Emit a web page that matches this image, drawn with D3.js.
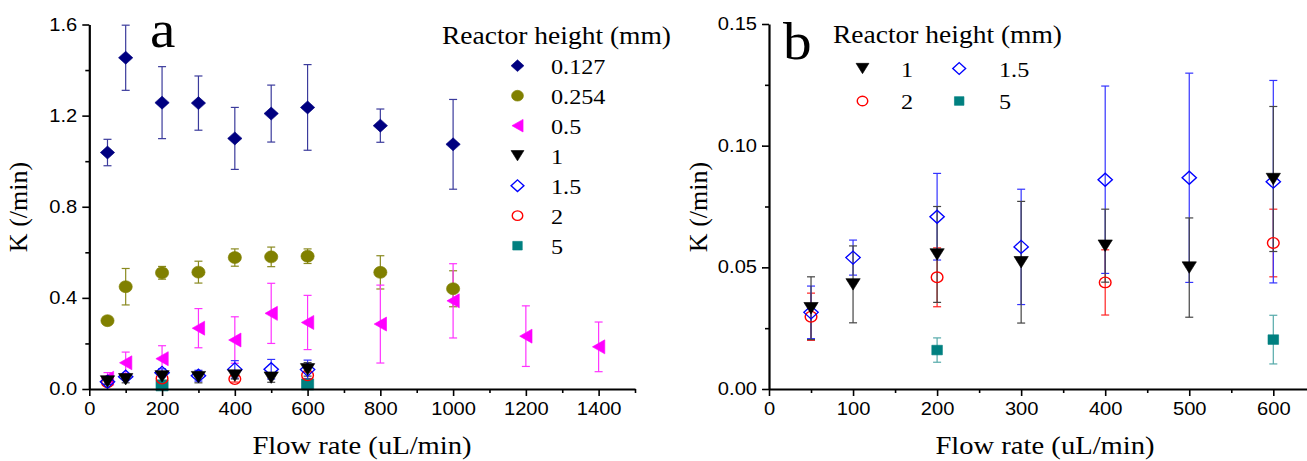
<!DOCTYPE html>
<html><head><meta charset="utf-8">
<script src="https://cdn.jsdelivr.net/npm/d3@7"></script>
<style>body{margin:0;background:#fff}svg{display:block;background:#fff}</style>
</head><body>
<svg id="c" width="1307" height="461"></svg>
<script>
// ---------- data ----------
const seriesNames = ["0.127","0.254","0.5","1","1.5","2","5"];
const flow0127 = [50,100,200,300,400,500,600,800,1000];
const k0127    = [1.038,1.454,1.257,1.255,1.100,1.209,1.236,1.156,1.074];
const e0127    = [0.058,0.143,0.158,0.119,0.136,0.125,0.188,0.073,0.197];
const flow0254 = [50,100,200,300,400,500,600,800,1000];
const k0254    = [0.300,0.449,0.510,0.513,0.577,0.580,0.583,0.512,0.440];
const e0254    = [0.010,0.080,0.028,0.048,0.038,0.043,0.032,0.073,0.079];
const flow05   = [50,100,200,300,400,500,600,800,1000,1200,1400];
const k05      = [0.047,0.115,0.133,0.267,0.215,0.332,0.292,0.285,0.387,0.232,0.185];
const e05      = [0.025,0.047,0.057,0.086,0.102,0.132,0.119,0.171,0.163,0.133,0.109];
const flow1    = [50,100,200,300,400,500,600];
const k1       = [0.0332,0.0430,0.0553,0.0521,0.0589,0.0499,0.0863];
const e1       = [0.0129,0.0158,0.0197,0.0250,0.0150,0.0204,0.0298];
const flow15   = [50,100,200,300,400,500,600];
const k15      = [0.0315,0.0540,0.0708,0.0584,0.0860,0.0868,0.0852];
const e15      = [0.0108,0.0072,0.0178,0.0237,0.0385,0.0430,0.0416];
const flow2    = [50,200,400,600];
const k2       = [0.0297,0.0459,0.0438,0.0600];
const e2       = [0.0097,0.0121,0.0134,0.0139];
const flow5    = [200,600];
const k5       = [0.0160,0.0203];
const e5       = [0.0050,0.0100];

const xTicksA = [0,200,400,600,800,1000,1200,1400];
const xMinorA = [100,300,500,700,900,1100,1300,1500];
const yTicksA = [0,0.4,0.8,1.2,1.6];
const yMinorA = [0.2,0.6,1.0,1.4];
const xTicksB = [0,100,200,300,400,500,600];
const xMinorB = [50,150,250,350,450,550,650];
const yTicksB = [0,0.05,0.10,0.15];
const yMinorB = [0.025,0.075,0.125];

// ---------- styling ----------
const SERIF = "'Liberation Serif','Times New Roman',serif";
const SANS = "'Liberation Sans',Arial,sans-serif";
const SX = 1.1;   // horizontal stretch of the source image
const style = {
  "0.127": {shape:"diamond", color:"#000080", fill:true,  r:6.5},
  "0.254": {shape:"circle",  color:"#808000", fill:true,  r:6},
  "0.5":   {shape:"triLeft", color:"#ff00ff", fill:true,  r:7},
  "1":     {shape:"triDown", color:"#000000", fill:true,  r:6.5},
  "1.5":   {shape:"diamond", color:"#0000ff", fill:false, r:6.5},
  "2":     {shape:"circle",  color:"#ff0000", fill:false, r:5.3},
  "5":     {shape:"square",  color:"#008080", fill:true,  r:4.8}
};
const errColor = {"0.127":"#3b3b9c","0.254":"#8a8a20","0.5":"#ff33ff","1":"#444444","1.5":"#3333ff","2":"#ff2222","5":"#55aaaa"};

function shapePath(shape, r){
  switch(shape){
    case "diamond": return `M0,${-r}L${r},0L0,${r}L${-r},0Z`;
    case "circle": return `M${-r},0A${r},${r} 0 1,0 ${r},0A${r},${r} 0 1,0 ${-r},0Z`;
    case "triLeft": return `M${-r*0.8},0L${r*0.8},${-r}L${r*0.8},${r}Z`;
    case "triDown": return `M${-r},${-r*0.88}L${r},${-r*0.88}L0,${r*0.88}Z`;
    case "square": return `M${-r},${-r}H${r}V${r}H${-r}Z`;
  }
}
function marker(g, name, x, y, scale){
  const s = style[name];
  const r = s.r*(scale||1);
  g.append("path").attr("d", shapePath(s.shape, r))
    .attr("transform", `translate(${x},${y}) scale(${SX},1)`)
    .attr("fill", s.fill ? s.color : "none")
    .attr("stroke", s.color)
    .attr("stroke-width", s.fill ? 0.6 : 1.3);
}
function text(g, x, y, str, size, family, anchor, sx){
  return g.append("text").attr("transform", `translate(${x},${y}) scale(${sx||1},1)`)
    .attr("text-anchor", anchor||"start").attr("font-family", family)
    .attr("font-size", size).attr("fill","#000").text(str);
}

const svg = d3.select("#c");
svg.append("rect").attr("width",1307).attr("height",461).attr("fill","#fff");

function drawPanel(cfg){
  const g = svg.append("g");
  const {x, y} = cfg;
  const y0 = y.range()[0];
  const x0 = x.range()[0];
  // error bars
  cfg.series.forEach(s => {
    s.flow.forEach((f,i)=>{
      const cx = x(f), lo = y(s.k[i]-s.e[i]), hi = y(s.k[i]+s.e[i]);
      const c = errColor[s.name];
      g.append("line").attr("x1",cx).attr("x2",cx).attr("y1",lo).attr("y2",hi)
        .attr("stroke",c).attr("stroke-width",1.2);
      [lo,hi].forEach(yy => g.append("line").attr("x1",cx-4).attr("x2",cx+4)
        .attr("y1",yy).attr("y2",yy).attr("stroke",c).attr("stroke-width",1.2));
    });
  });
  // markers
  cfg.series.forEach(s => {
    s.flow.forEach((f,i)=> marker(g, s.name, x(f), y(s.k[i]), s.scale));
  });
  // axes
  const styleAxis = sel => {
    sel.select(".domain").attr("stroke","#000").attr("stroke-width",2.2);
    sel.selectAll(".tick line").attr("stroke","#000").attr("stroke-width",1.6);
  };
  const ax = g.append("g").attr("transform",`translate(0,${y0})`)
    .call(d3.axisBottom(x).tickValues(cfg.xTicks).tickSize(7).tickPadding(7).tickSizeOuter(0).tickFormat(d3.format("d")));
  styleAxis(ax);
  ax.selectAll("text").attr("font-family",SANS).attr("font-size",17.5).attr("fill","#000")
    .attr("transform",`scale(1.15,1)`);
  const axm = g.append("g").attr("transform",`translate(0,${y0})`)
    .call(d3.axisBottom(x).tickValues(cfg.xMinor).tickSize(4).tickSizeOuter(0).tickFormat(""));
  styleAxis(axm); axm.select(".domain").remove();
  const ay = g.append("g").attr("transform",`translate(${x0},0)`)
    .call(d3.axisLeft(y).tickValues(cfg.yTicks).tickSize(7).tickPadding(5).tickSizeOuter(0).tickFormat(d3.format(cfg.yFmt)));
  styleAxis(ay);
  ay.selectAll("text").attr("font-family",SANS).attr("font-size",17.5).attr("fill","#000")
    .attr("x", -12/1.15).attr("transform",`scale(1.15,1)`);
  const aym = g.append("g").attr("transform",`translate(${x0},0)`)
    .call(d3.axisLeft(y).tickValues(cfg.yMinor).tickSize(4).tickSizeOuter(0).tickFormat(""));
  styleAxis(aym); aym.select(".domain").remove();
  // axis titles
  text(g, cfg.xTitleX, 454, "Flow rate (uL/min)", 26, SERIF, "middle", SX);
  g.append("text").attr("transform",`translate(${x0-62},207) rotate(-90)`)
    .attr("text-anchor","middle").attr("font-family",SERIF).attr("font-size",26).text("K (/min)");
  // panel letter
  text(g, cfg.letterX, cfg.letterY, cfg.letter, 52, SERIF, "start", SX);
  return g;
}

const xA = d3.scaleLinear().domain([0,1500]).range([89.3,635]);
const yA = d3.scaleLinear().domain([0,1.6]).range([389,24.5]);
const xB = d3.scaleLinear().domain([0,700]).range([769,769+7*84.05]);
const yB = d3.scaleLinear().domain([0,0.15]).range([389,24]);

const mk = (name, flow, k, e, scale) => ({name, flow, k, e, scale});

const gA = drawPanel({
  x:xA, y:yA, xTicks:xTicksA, xMinor:xMinorA, yTicks:yTicksA, yMinor:yMinorA, yFmt:".1f",
  xTitleX:362, letter:"a", letterX:150, letterY:47,
  series:[
    mk("0.127",flow0127,k0127,e0127), mk("0.254",flow0254,k0254,e0254), mk("0.5",flow05,k05,e05),
    mk("5",flow5,k5,e5,1.15), mk("2",flow2,k2,e2), mk("1.5",flow15,k15,e15), mk("1",flow1,k1,e1)
  ]
});
const gB = drawPanel({
  x:xB, y:yB, xTicks:xTicksB, xMinor:xMinorB, yTicks:yTicksB, yMinor:yMinorB, yFmt:".2f",
  xTitleX:1045, letter:"b", letterX:783, letterY:59,
  series:[
    mk("5",flow5,k5,e5), mk("2",flow2,k2,e2), mk("1.5",flow15,k15,e15), mk("1",flow1,k1,e1)
  ]
});

// legend a
text(gA, 442, 44, "Reactor height (mm)", 25, SERIF, "start", SX);
seriesNames.forEach((n,i)=>{
  const yy = 65.7 + 30*i;
  marker(gA, n, 517.5, yy, 0.9);
  text(gA, 551, yy+8, n, 22, SERIF, "start", SX);
});
// legend b
text(gB, 833, 43, "Reactor height (mm)", 25, SERIF, "start", SX);
const legB = [["1",0,0],["1.5",1,0],["2",0,1],["5",1,1]];
legB.forEach(([n,c,r])=>{
  const yy = 68.5 + 32.5*r;
  marker(gB, n, 862.5 + 96.7*c, yy, 0.9);
  text(gB, 901 + 98*c, yy+8, n, 22, SERIF, "start", SX);
});
</script>
</body></html>
